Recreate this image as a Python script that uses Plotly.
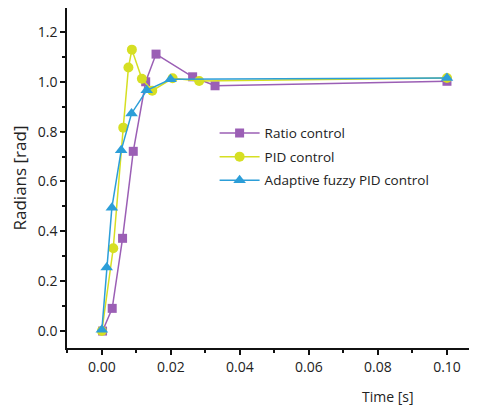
import plotly.graph_objects as go

# Data
ratio_t = [0.0002, 0.0030, 0.0060, 0.0091, 0.0127, 0.0157, 0.0263, 0.0328, 0.1000]
ratio_y = [0.000, 0.091, 0.372, 0.721, 1.000, 1.111, 1.020, 0.984, 1.002]

pid_t = [0.0000, 0.0033, 0.0062, 0.0077, 0.0087, 0.0116, 0.0146, 0.0205, 0.0282, 0.1000]
pid_y = [0.000, 0.332, 0.816, 1.057, 1.129, 1.012, 0.964, 1.014, 1.003, 1.015]

afpid_t = [0.0000, 0.0014, 0.0029, 0.0056, 0.0086, 0.0130, 0.0199, 0.1000]
afpid_y = [0.005, 0.255, 0.495, 0.725, 0.873, 0.966, 1.010, 1.015]

series_names = ["Ratio control", "PID control", "Adaptive fuzzy PID control"]
colors = ["#9b5fb5", "#d6df23", "#2c9ed8"]

x_ticks = [0.00, 0.02, 0.04, 0.06, 0.08, 0.10]
y_ticks = [0.0, 0.2, 0.4, 0.6, 0.8, 1.0, 1.2]

FONT = "Open Sans"

fig = go.Figure()
fig.add_trace(go.Scatter(x=ratio_t, y=ratio_y, mode="lines+markers", name=series_names[0],
                         legendgroup="a",
                         line=dict(color=colors[0], width=1.5),
                         marker=dict(symbol="square", size=9, color=colors[0])))
fig.add_trace(go.Scatter(x=pid_t, y=pid_y, mode="lines+markers", name=series_names[1],
                         legendgroup="b",
                         line=dict(color=colors[1], width=1.5),
                         marker=dict(symbol="circle", size=10, color=colors[1])))
fig.add_trace(go.Scatter(x=afpid_t, y=afpid_y, mode="lines+markers", name=series_names[2],
                         legendgroup="c",
                         line=dict(color=colors[2], width=1.5),
                         marker=dict(symbol="triangle-up", size=11, color=colors[2])))

fig.update_layout(
    width=469, height=402,
    margin=dict(l=59, r=0, t=0, b=62, autoexpand=False),
    paper_bgcolor="white", plot_bgcolor="white",
    font=dict(family=FONT, size=14, color="#222"),
    showlegend=True,
    legend=dict(x=0.36, y=0.677, xanchor="left", yanchor="top",
                bgcolor="rgba(0,0,0,0)", font=dict(size=13.5, family=FONT),
                itemwidth=40, tracegroupgap=3),
    xaxis=dict(range=[-0.0101, 0.1087], tickvals=x_ticks,
               ticktext=[f"{v:.2f}" for v in x_ticks], automargin=False,
               showgrid=False, zeroline=False, showline=True, linecolor="#111",
               linewidth=1.5, mirror=True, ticks="outside", ticklen=5, tickwidth=1.5,
               tickcolor="#111",
               minor=dict(dtick=0.01, tick0=0, ticks="outside", ticklen=3, tickwidth=1.5,
                          tickcolor="#111", showgrid=False)),
    yaxis=dict(range=[-0.068, 1.296], tickvals=y_ticks,
               ticktext=[f"{v:.1f}" for v in y_ticks], automargin=False,
               showgrid=False, zeroline=False, showline=True, linecolor="#111",
               linewidth=1.5, mirror=False, ticks="outside", ticklen=5, tickwidth=1.5,
               tickcolor="#111",
               title=dict(text="Radians [rad]", standoff=16),
               minor=dict(dtick=0.1, tick0=0, ticks="outside", ticklen=3, tickwidth=1.5,
                          tickcolor="#111", showgrid=False)),
    annotations=[dict(text="Time [s]", xref="paper", yref="paper", x=0.782, y=-0.144,
                      xanchor="center", yanchor="middle", showarrow=False,
                      font=dict(size=14, family=FONT))],
)

fig.write_html("out.html")
